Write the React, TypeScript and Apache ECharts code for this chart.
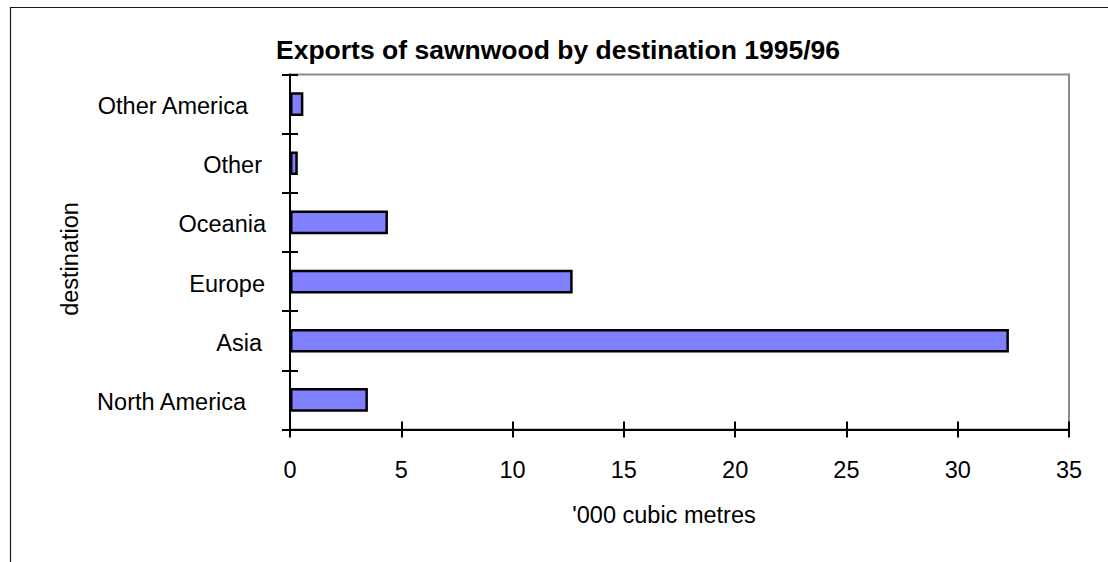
import React, { useEffect, useRef } from "react";
import * as echarts from "echarts";

// Sawnwood exports by destination, 1995/96 ('000 cubic metres)
const destinations = ["North America", "Asia", "Europe", "Oceania", "Other", "Other America"];
const volumes = [3.5, 32.3, 12.7, 4.4, 0.35, 0.6];
const xTicks = { min: 0, max: 35, interval: 5 };

const titleText = "Exports of sawnwood by destination 1995/96";
const xAxisTitle = "'000 cubic metres";
const yAxisTitle = "destination";

// extra right padding per category label (label alignment tweaks)
const labelPad: Record<string, number> = {
  "North America": 20,
  Asia: 4,
  Europe: 1,
  Oceania: 0,
  Other: 4,
  "Other America": 18,
};

const FONT = "'Liberation Sans', Arial, Helvetica, sans-serif";
const LABEL_SIZE = 23.5;

export default function App() {
  const ref = useRef<HTMLDivElement>(null);

  useEffect(() => {
    document.body.style.margin = "0";
    if (!ref.current) return;
    const chart = echarts.init(ref.current, undefined, { renderer: "svg" });

    const rich: Record<string, any> = {};
    destinations.forEach((d, i) => {
      rich["c" + i] = {
        fontFamily: FONT,
        fontSize: LABEL_SIZE,
        color: "#000",
        padding: [4, labelPad[d] || 0, 0, 0],
      };
    });

    chart.setOption({
      animation: false,
      backgroundColor: "#fff",
      title: {
        text: titleText,
        left: 553,
        top: 31,
        textAlign: "center",
        textStyle: { fontFamily: FONT, fontSize: 26.5, fontWeight: "bold", color: "#000" },
      },
      graphic: [
        {
          type: "rect",
          shape: { x: 10.5, y: 7.5, width: 1300, height: 900 },
          style: { fill: "none", stroke: "#1a1a1a", lineWidth: 1.2 },
          silent: true,
          z: 0,
        },
      ],
      grid: {
        left: 290,
        top: 74.5,
        right: 39,
        bottom: 132.5,
        show: true,
        borderColor: "#8c8c8c",
        borderWidth: 2,
        backgroundColor: "transparent",
      },
      xAxis: [
        {
          type: "value",
          position: "bottom",
          min: xTicks.min,
          max: xTicks.max,
          interval: xTicks.interval,
          name: xAxisTitle,
          nameLocation: "middle",
          nameGap: 73,
          nameTextStyle: {
            fontFamily: FONT,
            fontSize: LABEL_SIZE,
            color: "#000",
            padding: [0, 31, 0, 0],
          },
          axisLine: { show: true, onZero: false, lineStyle: { color: "#000", width: 2 } },
          axisTick: { show: true, inside: false, length: 8, lineStyle: { color: "#000", width: 2 } },
          axisLabel: { fontFamily: FONT, fontSize: LABEL_SIZE, color: "#000", margin: 28 },
          splitLine: { show: false },
        },
        {
          type: "value",
          position: "bottom",
          min: xTicks.min,
          max: xTicks.max,
          interval: xTicks.interval,
          axisLine: { show: false },
          axisTick: { show: true, inside: true, length: 8, lineStyle: { color: "#000", width: 2 } },
          axisLabel: { show: false },
          splitLine: { show: false },
        },
      ],
      yAxis: [
        {
          type: "category",
          position: "left",
          data: destinations,
          name: yAxisTitle,
          nameLocation: "middle",
          nameGap: 208,
          nameTextStyle: {
            fontFamily: FONT,
            fontSize: LABEL_SIZE,
            color: "#000",
            padding: [0, 14, 0, 0],
          },
          axisLine: { show: true, lineStyle: { color: "#000", width: 2 } },
          axisTick: { show: true, inside: false, length: 8, lineStyle: { color: "#000", width: 2 } },
          axisLabel: {
            margin: 24,
            formatter: (v: string) => `{c${destinations.indexOf(v)}|${v}}`,
            rich,
          },
          splitLine: { show: false },
        },
        {
          type: "category",
          position: "left",
          data: destinations,
          axisLine: { show: false },
          axisTick: { show: true, inside: true, length: 8, lineStyle: { color: "#000", width: 2 } },
          axisLabel: { show: false },
          splitLine: { show: false },
        },
      ],
      series: [
        {
          type: "bar",
          data: volumes,
          xAxisIndex: 0,
          yAxisIndex: 0,
          barCategoryGap: "60%",
          itemStyle: { color: "#8080ff", borderColor: "#000", borderWidth: 2.5 },
        },
      ],
    });

    return () => chart.dispose();
  }, []);

  return <div ref={ref} style={{ width: 1108, height: 562 }} />;
}
